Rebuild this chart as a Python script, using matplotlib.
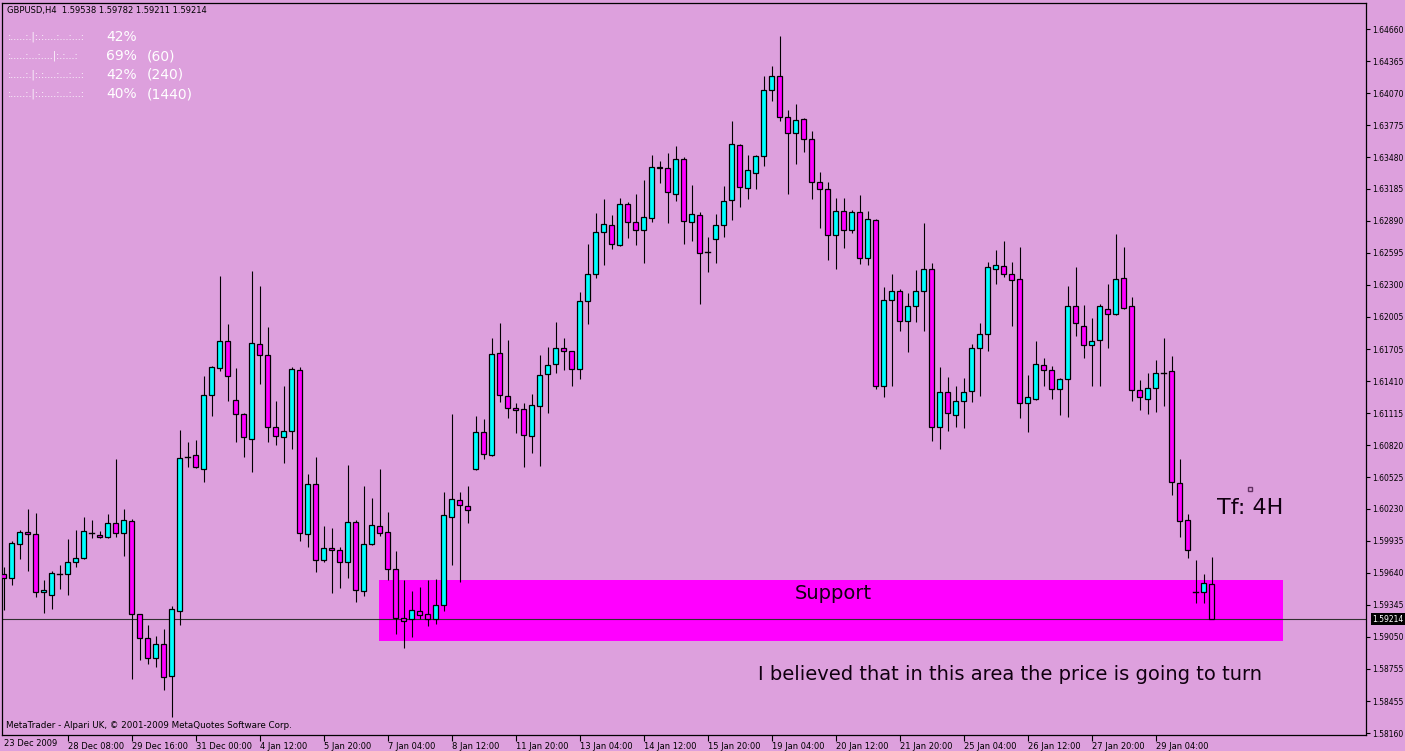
import matplotlib
matplotlib.use('Agg')
import matplotlib.pyplot as plt
from matplotlib.patches import Rectangle
import matplotlib.transforms as mtransforms

# H4 bars, index 0 = 23 Dec 2009
opens = [1.5963, 1.5959, 1.5991, 1.6002, 1.6000, 1.5946, 1.5944, 1.5963, 1.5963, 1.5974,
         1.5978, 1.6001, 1.5999, 1.5997, 1.6010, 1.6001, 1.6012, 1.5926, 1.5904, 1.5885,
         1.5898, 1.5869, 1.5929, 1.6071, 1.6073, 1.6060, 1.6128, 1.6153, 1.6178, 1.6124,
         1.6111, 1.6088, 1.6175, 1.6165, 1.6099, 1.6089, 1.6095, 1.6151, 1.6000, 1.6046,
         1.5976, 1.5987, 1.5985, 1.5974, 1.6011, 1.5947, 1.5991, 1.6007, 1.6002, 1.5968,
         1.5922, 1.5921, 1.5929, 1.5926, 1.5921, 1.5934, 1.6016, 1.6031, 1.6026, 1.6060,
         1.6094, 1.6073, 1.6167, 1.6127, 1.6116, 1.6115, 1.6090, 1.6118, 1.6148, 1.6157,
         1.6172, 1.6169, 1.6152, 1.6215, 1.6240, 1.6279, 1.6285, 1.6267, 1.6305, 1.6288,
         1.6281, 1.6292, 1.6339, 1.6338, 1.6314, 1.6346, 1.6288, 1.6294, 1.6260, 1.6272,
         1.6285, 1.6308, 1.6359, 1.6319, 1.6333, 1.6349, 1.6410, 1.6423, 1.6385, 1.6370,
         1.6383, 1.6365, 1.6325, 1.6318, 1.6276, 1.6298, 1.6281, 1.6297, 1.6255, 1.6290,
         1.6137, 1.6216, 1.6224, 1.6197, 1.6210, 1.6224, 1.6245, 1.6099, 1.6131, 1.6110,
         1.6123, 1.6132, 1.6172, 1.6185, 1.6245, 1.6247, 1.6240, 1.6235, 1.6121, 1.6125,
         1.6156, 1.6151, 1.6134, 1.6143, 1.6210, 1.6192, 1.6174, 1.6179, 1.6208, 1.6203,
         1.6236, 1.6210, 1.6133, 1.6125, 1.6135, 1.6149, 1.6150, 1.6047, 1.6013, 1.5946,
         1.5946, 1.59538]
highs = [1.5969, 1.5993, 1.6004, 1.6023, 1.6019, 1.5957, 1.5966, 1.5971, 1.5995, 1.6004,
         1.6016, 1.6013, 1.6003, 1.6018, 1.6069, 1.6023, 1.6014, 1.5926, 1.5916, 1.5906,
         1.5912, 1.5933, 1.6096, 1.6085, 1.6087, 1.6146, 1.6155, 1.6238, 1.6194, 1.6153,
         1.6112, 1.6243, 1.6229, 1.6191, 1.6123, 1.6137, 1.6154, 1.6154, 1.6055, 1.6071,
         1.6007, 1.6005, 1.5988, 1.6064, 1.6013, 1.6044, 1.6033, 1.6060, 1.6020, 1.5984,
         1.5957, 1.5947, 1.5951, 1.5957, 1.5958, 1.6039, 1.6111, 1.6039, 1.6044, 1.6109,
         1.6106, 1.6181, 1.6195, 1.6179, 1.6121, 1.6121, 1.6129, 1.6165, 1.6173, 1.6196,
         1.6181, 1.6169, 1.6223, 1.6268, 1.6296, 1.6309, 1.6294, 1.6310, 1.6306, 1.6314,
         1.6327, 1.6350, 1.6344, 1.6352, 1.6358, 1.6348, 1.6322, 1.6297, 1.6274, 1.6295,
         1.6321, 1.6381, 1.6360, 1.6350, 1.6350, 1.6423, 1.6432, 1.6460, 1.6391, 1.6397,
         1.6384, 1.6372, 1.6334, 1.6325, 1.6310, 1.6310, 1.6299, 1.6313, 1.6298, 1.6291,
         1.6228, 1.6240, 1.6226, 1.6222, 1.6244, 1.6287, 1.6250, 1.6154, 1.6145, 1.6137,
         1.6144, 1.6175, 1.6195, 1.6251, 1.6262, 1.6270, 1.6251, 1.6265, 1.6147, 1.6178,
         1.6162, 1.6155, 1.6144, 1.6229, 1.6246, 1.6211, 1.6199, 1.6212, 1.6231, 1.6277,
         1.6265, 1.6219, 1.6142, 1.6149, 1.6161, 1.6181, 1.6164, 1.6069, 1.6018, 1.5976,
         1.5963, 1.59782]
lows = [1.5930, 1.5953, 1.5977, 1.5966, 1.5942, 1.5927, 1.5931, 1.5949, 1.5944, 1.5969,
        1.5977, 1.5996, 1.5996, 1.5996, 1.5997, 1.5980, 1.5866, 1.5884, 1.5880, 1.5877,
        1.5856, 1.5831, 1.5916, 1.6062, 1.6061, 1.6048, 1.6109, 1.6150, 1.6123, 1.6085,
        1.6071, 1.6057, 1.6138, 1.6085, 1.6082, 1.6065, 1.6078, 1.5993, 1.5988, 1.5965,
        1.5974, 1.5945, 1.5950, 1.5959, 1.5937, 1.5943, 1.5990, 1.5998, 1.5957, 1.5908,
        1.5895, 1.5905, 1.5921, 1.5915, 1.5917, 1.5929, 1.5971, 1.5956, 1.6010, 1.6059,
        1.6069, 1.6072, 1.6122, 1.6107, 1.6093, 1.6062, 1.6075, 1.6063, 1.6112, 1.6149,
        1.6151, 1.6137, 1.6143, 1.6194, 1.6236, 1.6248, 1.6263, 1.6266, 1.6273, 1.6267,
        1.6250, 1.6288, 1.6324, 1.6287, 1.6307, 1.6268, 1.6270, 1.6212, 1.6242, 1.6250,
        1.6274, 1.6290, 1.6302, 1.6309, 1.6318, 1.6340, 1.6400, 1.6381, 1.6314, 1.6342,
        1.6353, 1.6309, 1.6282, 1.6253, 1.6245, 1.6264, 1.6278, 1.6249, 1.6248, 1.6134,
        1.6126, 1.6137, 1.6187, 1.6168, 1.6196, 1.6187, 1.6086, 1.6078, 1.6095, 1.6099,
        1.6098, 1.6122, 1.6127, 1.6169, 1.6231, 1.6237, 1.6192, 1.6107, 1.6094, 1.6124,
        1.6137, 1.6125, 1.6110, 1.6108, 1.6183, 1.6162, 1.6137, 1.6137, 1.6172, 1.6202,
        1.6208, 1.6123, 1.6114, 1.6111, 1.6113, 1.6118, 1.6036, 1.5997, 1.5978, 1.5936,
        1.5936, 1.59211]
closes = [1.5959, 1.5992, 1.6002, 1.6000, 1.5946, 1.5948, 1.5964, 1.5963, 1.5974, 1.5978,
          1.6003, 1.6001, 1.5997, 1.6010, 1.6001, 1.6013, 1.5926, 1.5904, 1.5885, 1.5898,
          1.5868, 1.5931, 1.6070, 1.6071, 1.6062, 1.6128, 1.6154, 1.6178, 1.6146, 1.6111,
          1.6089, 1.6176, 1.6165, 1.6099, 1.6090, 1.6095, 1.6152, 1.6001, 1.6046, 1.5976,
          1.5987, 1.5985, 1.5974, 1.6011, 1.5948, 1.5991, 1.6008, 1.6001, 1.5968, 1.5922,
          1.5920, 1.5930, 1.5925, 1.5921, 1.5934, 1.6017, 1.6032, 1.6027, 1.6022, 1.6094,
          1.6074, 1.6166, 1.6128, 1.6116, 1.6114, 1.6091, 1.6119, 1.6147, 1.6156, 1.6172,
          1.6169, 1.6152, 1.6215, 1.6240, 1.6279, 1.6286, 1.6268, 1.6305, 1.6288, 1.6281,
          1.6293, 1.6339, 1.6338, 1.6316, 1.6346, 1.6289, 1.6295, 1.6259, 1.6260, 1.6285,
          1.6307, 1.6360, 1.6320, 1.6336, 1.6349, 1.6410, 1.6423, 1.6385, 1.6370, 1.6382,
          1.6365, 1.6325, 1.6318, 1.6276, 1.6298, 1.6281, 1.6297, 1.6255, 1.6291, 1.6137,
          1.6216, 1.6224, 1.6197, 1.6210, 1.6224, 1.6245, 1.6099, 1.6131, 1.6112, 1.6123,
          1.6131, 1.6172, 1.6185, 1.6246, 1.6248, 1.6240, 1.6234, 1.6121, 1.6126, 1.6157,
          1.6151, 1.6134, 1.6143, 1.6210, 1.6195, 1.6174, 1.6178, 1.6210, 1.6203, 1.6235,
          1.6209, 1.6133, 1.6126, 1.6135, 1.6149, 1.6149, 1.6048, 1.6012, 1.5985, 1.5946,
          1.5955, 1.59214]

last_price = 1.59214
support_low, support_high = 1.5901, 1.5957
support_from, support_to = 46.9, 159.9

price_ticks = [1.64660, 1.64365, 1.64070, 1.63775, 1.63480, 1.63185, 1.62890, 1.62595,
               1.62300, 1.62005, 1.61705, 1.61410, 1.61115, 1.60820, 1.60525, 1.60230,
               1.59935, 1.59640, 1.59345, 1.59050, 1.58755, 1.58455, 1.58160]
time_ticks = list(range(8, 152, 8))
time_labels = ['28 Dec 08:00', '29 Dec 16:00', '31 Dec 00:00', '4 Jan 12:00', '5 Jan 20:00',
               '7 Jan 04:00', '8 Jan 12:00', '11 Jan 20:00', '13 Jan 04:00', '14 Jan 12:00',
               '15 Jan 20:00', '19 Jan 04:00', '20 Jan 12:00', '21 Jan 20:00', '25 Jan 04:00',
               '26 Jan 12:00', '27 Jan 20:00', '29 Jan 04:00']
first_label = '23 Dec 2009'

ind_dots = [':.....:.|:.:....:...:...:', ':.....:...:....|:.:...:', ':.....:.|:.:....:...:...:',
            ':.....:.|:.:....:...:...:']
ind_pct = ['42%', '69%', '42%', '40%']
ind_tf = ['', '(60)', '(240)', '(1440)']

bg = '#DDA0DD'

fig = plt.figure(figsize=(14.05, 7.51), dpi=100, facecolor=bg)
ax = fig.add_axes([2 / 1405, 16 / 751, 1364 / 1405, 732 / 751], facecolor=bg)

# support zone
ax.add_patch(Rectangle((support_from, support_low), support_to - support_from,
                       support_high - support_low, facecolor='#FF00FF', edgecolor='none', zorder=1))
ax.axhline(last_price, color='#303030', lw=0.8, zorder=2)

w = 0.55
for i in range(len(opens)):
    o, h, l, c = opens[i], highs[i], lows[i], closes[i]
    ax.plot([i, i], [l, h], color='black', lw=0.8, zorder=3, solid_capstyle='butt')
    if o == c:
        ax.plot([i - w / 2, i + w / 2], [o, o], color='black', lw=1.0, zorder=4)
        continue
    col = '#00FFFF' if c > o else '#FF00FF'
    ax.add_patch(Rectangle((i - w / 2, min(o, c)), w, abs(c - o), facecolor=col,
                           edgecolor='black', lw=0.9, zorder=4))

ax.set_xlim(-0.19, 170.3)
ax.set_ylim(1.58143, 1.64902)

ax.yaxis.tick_right()
ax.set_yticks(price_ticks)
ax.set_yticklabels(['%.5f' % p for p in price_ticks])
ax.set_xticks(time_ticks)
ax.set_xticklabels(time_labels)
ax.tick_params(axis='y', direction='out', length=3, width=0.8, pad=1.5, labelsize=5.5, colors='black')
ax.tick_params(axis='x', direction='out', length=4, width=0.8, pad=1, labelsize=6.0, colors='black')
for lab in ax.get_xticklabels():
    lab.set_horizontalalignment('left')
for sp in ax.spines.values():
    sp.set_color('black')
    sp.set_linewidth(0.9)

ax.text(0.0, -0.006, first_label, transform=mtransforms.blended_transform_factory(ax.transData, ax.transAxes),
        ha='left', va='top', fontsize=6.0, color='black')

# current price marker on the scale
ax.text(1.0 + 6 / 1364, last_price, '%.5f' % last_price,
        transform=mtransforms.blended_transform_factory(ax.transAxes, ax.transData),
        ha='left', va='center', fontsize=5.5, color='white', clip_on=False, zorder=10,
        bbox=dict(facecolor='black', edgecolor='none', pad=1.0))

# annotations
ax.text(103.7, 1.5945, 'Support', fontsize=14, ha='center', va='center', color='#100010', zorder=5)
ax.text(125.8, 1.5870, 'I believed that in this area the price is going to turn', fontsize=14,
        ha='center', va='center', color='#100010', zorder=5)
ax.text(155.8, 1.6024, 'Tf: 4H', fontsize=16, ha='center', va='center', color='#100010', zorder=5)
ax.plot([155.8], [1.6041], marker='s', ms=2.5, mfc='none', mec='#603060', zorder=5)

# header and indicator text
fig.text(7 / 1405, 1 - 10 / 751, 'GBPUSD,H4  1.59538 1.59782 1.59211 1.59214', fontsize=6.0,
         color='black', ha='left', va='center')
for k in range(4):
    yy = 1 - (37 + 19 * k) / 751
    fig.text(8 / 1405, yy, ind_dots[k], fontsize=7, color='white', ha='left', va='center')
    fig.text(106 / 1405, yy, ind_pct[k], fontsize=10, color='white', ha='left', va='center')
    fig.text(147 / 1405, yy, ind_tf[k], fontsize=10, color='white', ha='left', va='center')

fig.text(6 / 1405, 1 - 725 / 751, 'MetaTrader - Alpari UK, \u00a9 2001-2009 MetaQuotes Software Corp.',
         fontsize=6.3, color='black', ha='left', va='center')

fig.savefig('out.png', dpi=100, facecolor=bg)
